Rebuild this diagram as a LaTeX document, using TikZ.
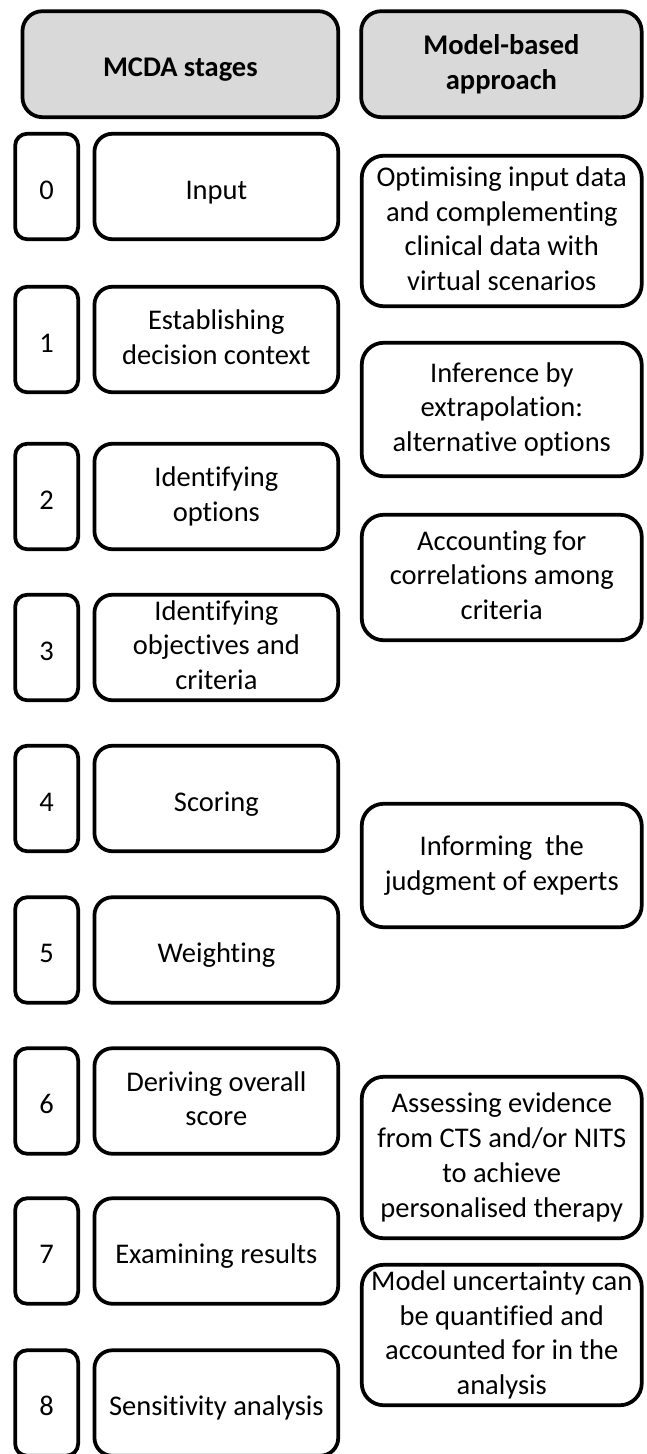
\documentclass[tikz,border=0pt]{standalone}
\usepackage{fontspec}
\setmainfont{Carlito}[Ligatures=NoCommon]
\begin{document}
\begin{tikzpicture}[x=1pt,y=-1pt,
  box/.style={draw=black, line width=3.75pt, align=center, inner sep=0pt, fill=white,
    font=\fontsize{28.5}{34.8}\selectfont,
    execute at begin node={\rule{0pt}{29.9pt}},
    execute at end node={\rule[-4.9pt]{0pt}{4.9pt}}},
  numbox/.style={box, minimum width=63pt, minimum height=105.5pt, rounded corners=12pt},
  stagebox/.style={box, minimum width=243.8pt, minimum height=105.5pt, rounded corners=18pt},
  headbox/.style={box, fill=black!15, minimum height=106pt, rounded corners=20pt,
    font=\fontsize{28.5}{34.8}\selectfont\bfseries},
  modelbox/.style={box, minimum width=280pt, rounded corners=22pt}
]
\useasboundingbox (0,0) rectangle (646,1454);
% headers
\node[headbox, minimum width=315.8pt] (hl) at (180.35,64.2) {MCDA stages};
\node[headbox, minimum width=280.5pt] (hr) at (501.4,64.2) {Model-based\\approach};
% stage rows
\node[numbox] (n0) at (46.65,186.5) {0};
\node[stagebox] (s0) at (216.35,186.5) {Input};
\node[numbox] (n1) at (46.65,339.5) {1};
\node[stagebox] (s1) at (216.35,339.5) {Establishing\\decision context};
\node[numbox] (n2) at (46.65,496.5) {2};
\node[stagebox] (s2) at (216.35,496.5) {Identifying\\options};
\node[numbox] (n3) at (46.65,647.5) {3};
\node[stagebox] (s3) at (216.35,647.5) {Identifying\\objectives and\\criteria};
\node[numbox] (n4) at (46.65,798.5) {4};
\node[stagebox] (s4) at (216.35,798.5) {Scoring};
\node[numbox] (n5) at (46.65,950) {5};
\node[stagebox] (s5) at (216.35,950) {Weighting};
\node[numbox] (n6) at (46.65,1101) {6};
\node[stagebox] (s6) at (216.35,1101) {Deriving overall\\score};
\node[numbox] (n7) at (46.65,1251) {7};
\node[stagebox] (s7) at (216.35,1251) {Examining results};
\node[numbox] (n8) at (46.65,1403) {8};
\node[stagebox] (s8) at (216.35,1403) {Sensitivity analysis};
% model-based boxes
\node[modelbox, minimum height=150.5pt] (m1) at (501.75,231) {Optimising input data\\and complementing\\clinical data with\\virtual scenarios};
\node[modelbox, minimum height=133.5pt] (m2) at (501.75,409.5) {Inference by\\extrapolation:\\alternative options};
\node[modelbox, minimum height=125.5pt] (m3) at (501.75,577.5) {Accounting for\\correlations among\\criteria};
\node[modelbox, minimum height=123.5pt] (m4) at (501.75,865.5) {Informing~ the\\judgment of experts};
\node[modelbox, minimum height=161.5pt] (m5) at (501.75,1157.5) {Assessing evidence\\from CTS and/or NITS\\to achieve\\personalised therapy};
\node[modelbox, minimum height=140.5pt] (m6) at (501.75,1335) {Model uncertainty can\\be quantified and\\accounted for in the\\analysis};
\end{tikzpicture}
\end{document}
